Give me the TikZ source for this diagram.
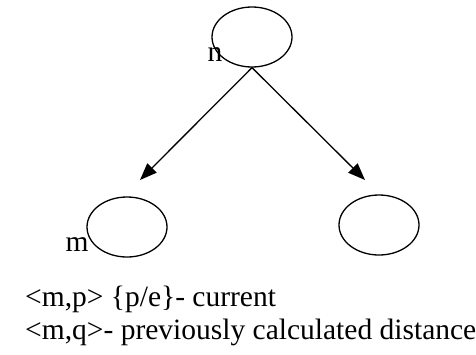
\documentclass[tikz,border=0pt]{standalone}
\usepackage{fontspec}
\setmainfont{Liberation Serif}
\usetikzlibrary{arrows.meta,positioning,shapes.geometric}

\begin{document}
\begin{tikzpicture}[x=1pt,y=-1pt,font=\fontsize{29.5}{33}\selectfont,
  vert/.style={draw,ellipse,line width=1.3pt,minimum width=80pt,minimum height=60pt,inner sep=0pt},
  lbl/.style={inner sep=0pt},
  >={Triangle[length=17pt,width=13pt]}]
  \useasboundingbox (0,0) rectangle (476,354);
  \node[vert] (top) at (252,37) {};
  \node[vert] (left) at (127,227) {};
  \node[vert] (right) at (379,225) {};
  \node[lbl] (nlbl) at (215,55) {n};
  \node[lbl] (mlbl) at (77,245) {m};
  \coordinate (ltip) at (140,180);
  \coordinate (rtip) at (365,180);
  \draw[->,line width=1.3pt] (top.south) -- (ltip);
  \draw[->,line width=1.3pt] (top.south) -- (rtip);
  \node[lbl,anchor=base west] (cur) at (25,306) {<m,p> \{p/e\}- current};
  \node[lbl,anchor=base west] (prev) at (25,339) {<m,q>- previously calculated distance};
\end{tikzpicture}
\end{document}
